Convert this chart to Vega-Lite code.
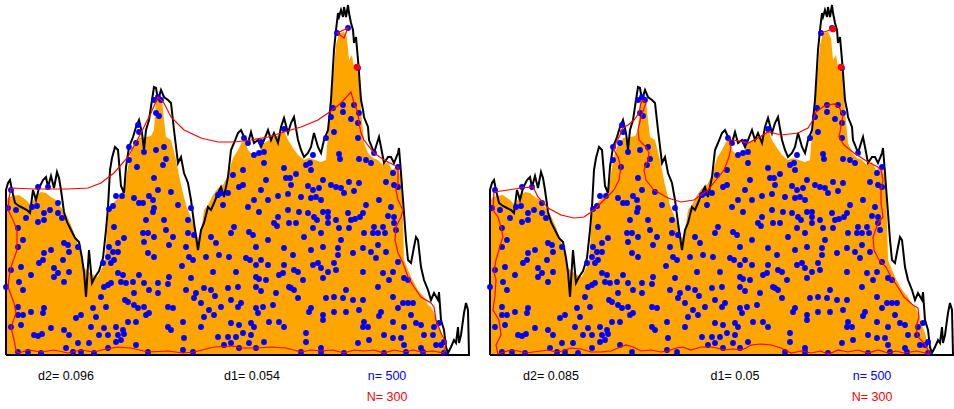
{
"$schema": "https://vega.github.io/schema/vega-lite/v6.json",
"padding": {"left": 2, "top": 0, "right": 0, "bottom": 0},
"spacing": 21,
"bounds": "flush",
"config": {"view": {"stroke": null}},
"datasets": {
"orange": [
{"x":5,"y":155},{"x":8,"y":158},{"x":12,"y":159},{"x":18,"y":160},{"x":25,"y":155},{"x":30,"y":150},{"x":35,"y":160},{"x":40,"y":163},{"x":45,"y":162},{"x":50,"y":158},{"x":55,"y":155},{"x":58,"y":150},{"x":62,"y":145},{"x":67,"y":137},{"x":72,"y":125},{"x":77,"y":110},{"x":80,"y":100},{"x":83,"y":87},{"x":88,"y":83},{"x":92,"y":80},{"x":97,"y":78},{"x":100,"y":85},{"x":104,"y":93},{"x":107,"y":140},{"x":110,"y":150},{"x":115,"y":155},{"x":120,"y":160},{"x":125,"y":175},{"x":128,"y":195},{"x":132,"y":208},{"x":138,"y":217},{"x":145,"y":218},{"x":150,"y":219},{"x":153,"y":225},{"x":155,"y":255},{"x":158,"y":259},{"x":161,"y":255},{"x":163,"y":235},{"x":165,"y":218},{"x":170,"y":215},{"x":175,"y":195},{"x":180,"y":170},{"x":185,"y":150},{"x":190,"y":137},{"x":193,"y":130},{"x":197,"y":117},{"x":200,"y":123},{"x":203,"y":145},{"x":207,"y":150},{"x":212,"y":160},{"x":217,"y":167},{"x":222,"y":170},{"x":227,"y":180},{"x":232,"y":197},{"x":237,"y":205},{"x":241,"y":213},{"x":244,"y":215},{"x":247,"y":205},{"x":252,"y":200},{"x":258,"y":202},{"x":263,"y":212},{"x":268,"y":215},{"x":273,"y":218},{"x":278,"y":220},{"x":283,"y":225},{"x":287,"y":215},{"x":292,"y":207},{"x":297,"y":200},{"x":303,"y":195},{"x":308,"y":197},{"x":314,"y":195},{"x":320,"y":193},{"x":325,"y":195},{"x":328,"y":235},{"x":332,"y":275},{"x":335,"y":310},{"x":338,"y":322},{"x":343,"y":323},{"x":346,"y":317},{"x":348,"y":295},{"x":351,"y":300},{"x":353,"y":288},{"x":356,"y":287},{"x":358,"y":275},{"x":360,"y":245},{"x":363,"y":212},{"x":367,"y":202},{"x":372,"y":197},{"x":377,"y":195},{"x":382,"y":190},{"x":387,"y":193},{"x":391,"y":185},{"x":395,"y":188},{"x":398,"y":185},{"x":400,"y":175},{"x":402,"y":135},{"x":403,"y":95},{"x":410,"y":78},{"x":417,"y":65},{"x":423,"y":58},{"x":427,"y":50},{"x":430,"y":48},{"x":433,"y":42},{"x":437,"y":30},{"x":440,"y":22},{"x":443,"y":10},{"x":446,"y":0}
],
"black": [
{"x":5,"y":0},{"x":5,"y":165},{"x":7,"y":172},{"x":9,"y":175},{"x":11,"y":165},{"x":14,"y":152},{"x":18,"y":149},{"x":22,"y":147},{"x":26,"y":145},{"x":29,"y":142},{"x":32,"y":165},{"x":35,"y":155},{"x":38,"y":167},{"x":42,"y":175},{"x":45,"y":178},{"x":47,"y":168},{"x":50,"y":179},{"x":53,"y":167},{"x":56,"y":183},{"x":58,"y":177},{"x":60,"y":165},{"x":63,"y":143},{"x":66,"y":133},{"x":70,"y":125},{"x":74,"y":117},{"x":78,"y":113},{"x":81,"y":97},{"x":83,"y":83},{"x":85,"y":58},{"x":88,"y":105},{"x":91,"y":72},{"x":94,"y":78},{"x":98,"y":84},{"x":102,"y":97},{"x":105,"y":125},{"x":107,"y":148},{"x":109,"y":185},{"x":111,"y":197},{"x":114,"y":208},{"x":117,"y":205},{"x":120,"y":169},{"x":123,"y":162},{"x":125,"y":188},{"x":128,"y":208},{"x":132,"y":218},{"x":135,"y":228},{"x":138,"y":235},{"x":141,"y":222},{"x":143,"y":205},{"x":145,"y":225},{"x":148,"y":235},{"x":151,"y":255},{"x":153,"y":268},{"x":155,"y":267},{"x":157,"y":255},{"x":160,"y":265},{"x":163,"y":258},{"x":167,"y":255},{"x":170,"y":252},{"x":173,"y":225},{"x":177,"y":192},{"x":180,"y":198},{"x":183,"y":182},{"x":187,"y":172},{"x":190,"y":155},{"x":193,"y":132},{"x":197,"y":105},{"x":200,"y":125},{"x":203,"y":132},{"x":207,"y":148},{"x":210,"y":145},{"x":213,"y":152},{"x":217,"y":162},{"x":220,"y":168},{"x":223,"y":158},{"x":227,"y":178},{"x":230,"y":205},{"x":233,"y":212},{"x":237,"y":222},{"x":240,"y":225},{"x":243,"y":218},{"x":247,"y":212},{"x":250,"y":223},{"x":253,"y":212},{"x":257,"y":215},{"x":260,"y":208},{"x":263,"y":215},{"x":267,"y":225},{"x":270,"y":215},{"x":273,"y":222},{"x":277,"y":212},{"x":280,"y":228},{"x":283,"y":237},{"x":287,"y":222},{"x":290,"y":232},{"x":293,"y":238},{"x":297,"y":215},{"x":300,"y":205},{"x":303,"y":198},{"x":307,"y":202},{"x":310,"y":208},{"x":313,"y":222},{"x":317,"y":208},{"x":320,"y":202},{"x":323,"y":215},{"x":327,"y":225},{"x":330,"y":255},{"x":332,"y":288},{"x":333,"y":305},{"x":335,"y":325},{"x":337,"y":342},{"x":338,"y":338},{"x":340,"y":345},{"x":342,"y":338},{"x":343,"y":348},{"x":345,"y":338},{"x":347,"y":350},{"x":348,"y":342},{"x":350,"y":332},{"x":352,"y":325},{"x":353,"y":312},{"x":355,"y":318},{"x":357,"y":295},{"x":358,"y":282},{"x":360,"y":255},{"x":362,"y":245},{"x":363,"y":238},{"x":367,"y":228},{"x":368,"y":215},{"x":372,"y":205},{"x":373,"y":202},{"x":377,"y":215},{"x":378,"y":218},{"x":380,"y":208},{"x":383,"y":192},{"x":387,"y":198},{"x":390,"y":198},{"x":393,"y":192},{"x":397,"y":202},{"x":398,"y":207},{"x":400,"y":182},{"x":402,"y":155},{"x":403,"y":142},{"x":405,"y":115},{"x":407,"y":95},{"x":410,"y":92},{"x":413,"y":108},{"x":415,"y":118},{"x":417,"y":115},{"x":420,"y":88},{"x":423,"y":75},{"x":427,"y":65},{"x":430,"y":55},{"x":433,"y":62},{"x":437,"y":55},{"x":438,"y":63},{"x":440,"y":35},{"x":443,"y":25},{"x":445,"y":8},{"x":447,"y":2},{"x":450,"y":8},{"x":453,"y":15},{"x":455,"y":12},{"x":457,"y":28},{"x":458,"y":12},{"x":460,"y":20},{"x":463,"y":42},{"x":465,"y":52},{"x":467,"y":45},{"x":468,"y":0},{"x":5,"y":0}
],
"pts": [
{"x":153,"y":255},{"x":157,"y":258},{"x":160,"y":255},{"x":155,"y":242},{"x":158,"y":239},{"x":137,"y":230},{"x":138,"y":223},{"x":135,"y":212},{"x":128,"y":208},{"x":143,"y":203},{"x":155,"y":205},{"x":163,"y":208},{"x":128,"y":195},{"x":136,"y":188},{"x":162,"y":190},{"x":165,"y":196},{"x":153,"y":177},
{"x":243,"y":217},{"x":247,"y":212},{"x":253,"y":200},{"x":258,"y":202},{"x":263,"y":203},{"x":260,"y":213},{"x":283,"y":226},{"x":263,"y":192},{"x":283,"y":187},{"x":285,"y":177},{"x":289,"y":177},{"x":295,"y":181},{"x":305,"y":190},{"x":309,"y":192},{"x":310,"y":185},{"x":312,"y":200},{"x":232,"y":180},{"x":242,"y":185},
{"x":336,"y":322},{"x":347,"y":327},{"x":357,"y":287},{"x":332,"y":247},{"x":342,"y":250},{"x":342,"y":243},{"x":353,"y":250},{"x":330,"y":238},{"x":358,"y":242},{"x":350,"y":236},{"x":357,"y":232},{"x":333,"y":223},{"x":325,"y":217},{"x":357,"y":217},{"x":338,"y":201},{"x":339,"y":196},{"x":358,"y":196},{"x":365,"y":195},{"x":370,"y":192},{"x":373,"y":202},{"x":392,"y":182},{"x":397,"y":188},
{"x":10,"y":165},{"x":37,"y":168},{"x":47,"y":168},{"x":7,"y":147},{"x":15,"y":145},{"x":25,"y":137},{"x":31,"y":148},{"x":36,"y":149},{"x":43,"y":142},{"x":49,"y":145},{"x":57,"y":152},{"x":57,"y":142},{"x":61,"y":137},{"x":37,"y":133},{"x":43,"y":135},{"x":115,"y":159},{"x":121,"y":159},{"x":112,"y":149},{"x":108,"y":146},{"x":133,"y":157},{"x":138,"y":152},{"x":142,"y":152},{"x":148,"y":159},{"x":152,"y":155},{"x":153,"y":147},{"x":152,"y":143},{"x":145,"y":135},{"x":157,"y":165},
{"x":17,"y":127},{"x":22,"y":115},{"x":17,"y":108},{"x":63,"y":112},{"x":67,"y":110},{"x":77,"y":108},{"x":68,"y":103},{"x":43,"y":102},{"x":50,"y":105},{"x":42,"y":95},{"x":38,"y":92},{"x":62,"y":95},{"x":20,"y":88},{"x":10,"y":85},{"x":30,"y":80},{"x":53,"y":87},{"x":57,"y":82},{"x":68,"y":83},{"x":53,"y":78},{"x":63,"y":73},{"x":18,"y":73},{"x":5,"y":68},{"x":22,"y":65},{"x":113,"y":128},{"x":117,"y":112},{"x":123,"y":117},{"x":147,"y":122},{"x":153,"y":118},{"x":142,"y":122},{"x":143,"y":113},{"x":108,"y":108},{"x":112,"y":103},{"x":117,"y":103},{"x":107,"y":98},{"x":113,"y":95},{"x":102,"y":92},{"x":110,"y":92},{"x":153,"y":98},{"x":147,"y":102},{"x":138,"y":80},{"x":132,"y":73},{"x":143,"y":72},{"x":117,"y":82},{"x":122,"y":80},{"x":120,"y":73},{"x":125,"y":72},{"x":110,"y":72},{"x":103,"y":68},{"x":107,"y":70},{"x":133,"y":62},{"x":148,"y":65},{"x":157,"y":72},{"x":157,"y":62},{"x":167,"y":71},
{"x":17,"y":48},{"x":17,"y":40},{"x":22,"y":40},{"x":30,"y":43},{"x":42,"y":42},{"x":43,"y":47},{"x":20,"y":30},{"x":10,"y":28},{"x":33,"y":20},{"x":37,"y":19},{"x":41,"y":21},{"x":50,"y":27},{"x":68,"y":20},{"x":63,"y":25},{"x":75,"y":37},{"x":80,"y":40},{"x":77,"y":12},{"x":65,"y":7},{"x":72,"y":3},{"x":80,"y":3},{"x":88,"y":12},{"x":90,"y":28},{"x":92,"y":47},{"x":100,"y":58},{"x":95,"y":38},{"x":98,"y":20},{"x":103,"y":27},{"x":105,"y":48},{"x":107,"y":20},{"x":115,"y":28},{"x":117,"y":20},{"x":122,"y":25},{"x":123,"y":21},{"x":127,"y":33},{"x":135,"y":33},{"x":135,"y":10},{"x":120,"y":15},{"x":115,"y":13},{"x":107,"y":7},{"x":93,"y":2},{"x":145,"y":40},{"x":148,"y":42},{"x":40,"y":2},{"x":27,"y":3},{"x":17,"y":3},{"x":147,"y":3},{"x":127,"y":53},{"x":133,"y":50},{"x":137,"y":47},{"x":143,"y":48},{"x":124,"y":55},
{"x":170,"y":163},{"x":177,"y":150},{"x":190,"y":147},{"x":163,"y":135},{"x":187,"y":135},{"x":165,"y":125},{"x":172,"y":118},{"x":168,"y":110},{"x":187,"y":122},{"x":193,"y":120},{"x":185,"y":108},{"x":210,"y":118},{"x":215,"y":112},{"x":217,"y":160},{"x":220,"y":162},{"x":222,"y":150},{"x":227,"y":162},{"x":238,"y":168},{"x":188,"y":98},{"x":192,"y":95},{"x":181,"y":89},{"x":205,"y":98},{"x":218,"y":100},{"x":228,"y":98},{"x":230,"y":122},{"x":233,"y":128},{"x":168,"y":78},{"x":190,"y":77},{"x":212,"y":83},{"x":185,"y":65},{"x":195,"y":62},{"x":203,"y":67},{"x":210,"y":65},{"x":214,"y":59},{"x":193,"y":57},{"x":227,"y":67},{"x":235,"y":83},{"x":237,"y":68},{"x":200,"y":52},{"x":208,"y":45},{"x":220,"y":48},{"x":230,"y":55},{"x":237,"y":48},{"x":172,"y":47},{"x":167,"y":48},{"x":167,"y":28},{"x":170,"y":25},{"x":182,"y":33},{"x":183,"y":17},{"x":182,"y":5},{"x":192,"y":3},{"x":200,"y":28},{"x":203,"y":38},{"x":213,"y":40},{"x":217,"y":18},{"x":227,"y":18},{"x":230,"y":32},{"x":223,"y":10},{"x":230,"y":12},{"x":235,"y":18},
{"x":242,"y":170},{"x":247,"y":148},{"x":253,"y":155},{"x":258,"y":143},{"x":260,"y":165},{"x":265,"y":175},{"x":267,"y":155},{"x":277,"y":159},{"x":287,"y":161},{"x":290,"y":170},{"x":300,"y":158},{"x":298,"y":143},{"x":287,"y":145},{"x":307,"y":169},{"x":312,"y":165},{"x":310,"y":157},{"x":315,"y":158},{"x":318,"y":167},{"x":322,"y":175},{"x":320,"y":155},{"x":322,"y":143},{"x":327,"y":143},{"x":330,"y":170},{"x":335,"y":168},{"x":340,"y":167},{"x":343,"y":162},{"x":348,"y":173},{"x":353,"y":164},{"x":358,"y":172},{"x":365,"y":150},{"x":362,"y":142},{"x":378,"y":155},{"x":385,"y":173},{"x":393,"y":170},{"x":397,"y":168},{"x":390,"y":148},{"x":393,"y":138},{"x":387,"y":139},
{"x":248,"y":123},{"x":252,"y":120},{"x":273,"y":132},{"x":276,"y":129},{"x":288,"y":132},{"x":295,"y":132},{"x":307,"y":142},{"x":313,"y":138},{"x":316,"y":135},{"x":312,"y":127},{"x":320,"y":122},{"x":327,"y":138},{"x":327,"y":132},{"x":335,"y":135},{"x":338,"y":127},{"x":348,"y":127},{"x":350,"y":135},{"x":354,"y":136},{"x":359,"y":138},{"x":347,"y":142},{"x":363,"y":122},{"x":372,"y":122},{"x":373,"y":128},{"x":377,"y":122},{"x":382,"y":128},{"x":384,"y":122},{"x":393,"y":132},{"x":395,"y":125},{"x":377,"y":110},{"x":370,"y":103},{"x":385,"y":103},{"x":375,"y":97},{"x":362,"y":107},{"x":352,"y":102},{"x":340,"y":115},{"x":337,"y":107},{"x":337,"y":100},{"x":333,"y":92},{"x":322,"y":108},{"x":310,"y":105},{"x":312,"y":90},{"x":292,"y":100},{"x":283,"y":107},{"x":267,"y":115},{"x":255,"y":108},{"x":255,"y":90},{"x":245,"y":97},{"x":249,"y":95},{"x":260,"y":95},{"x":267,"y":90},{"x":283,"y":90},{"x":282,"y":82},{"x":293,"y":85},{"x":255,"y":78},{"x":258,"y":76},{"x":265,"y":75},{"x":278,"y":80},{"x":297,"y":83},{"x":302,"y":75},{"x":320,"y":87},{"x":327,"y":83},{"x":335,"y":85},{"x":362,"y":83},{"x":382,"y":82},{"x":392,"y":83},{"x":397,"y":93},{"x":388,"y":75},{"x":403,"y":77},{"x":407,"y":75},{"x":303,"y":118},{"x":317,"y":92},{"x":277,"y":138},
{"x":255,"y":68},{"x":260,"y":64},{"x":275,"y":62},{"x":290,"y":67},{"x":322,"y":77},{"x":345,"y":65},{"x":342,"y":57},{"x":333,"y":58},{"x":325,"y":57},{"x":352,"y":55},{"x":362,"y":55},{"x":377,"y":68},{"x":392,"y":58},{"x":397,"y":47},{"x":402,"y":52},{"x":407,"y":52},{"x":412,"y":52},{"x":410,"y":40},{"x":420,"y":30},{"x":415,"y":32},{"x":403,"y":28},{"x":240,"y":52},{"x":255,"y":47},{"x":262,"y":48},{"x":272,"y":50},{"x":257,"y":42},{"x":268,"y":33},{"x":278,"y":33},{"x":283,"y":28},{"x":297,"y":57},{"x":310,"y":47},{"x":308,"y":43},{"x":322,"y":40},{"x":322,"y":35},{"x":333,"y":43},{"x":345,"y":43},{"x":358,"y":45},{"x":363,"y":33},{"x":362,"y":28},{"x":367,"y":28},{"x":380,"y":43},{"x":378,"y":39},{"x":392,"y":33},{"x":238,"y":30},{"x":250,"y":32},{"x":253,"y":28},{"x":288,"y":68},{"x":293,"y":65},
{"x":242,"y":22},{"x":250,"y":20},{"x":263,"y":13},{"x":248,"y":12},{"x":238,"y":7},{"x":255,"y":7},{"x":300,"y":3},{"x":305,"y":22},{"x":305,"y":13},{"x":320,"y":7},{"x":320,"y":3},{"x":343,"y":2},{"x":357,"y":12},{"x":368,"y":15},{"x":383,"y":20},{"x":392,"y":17},{"x":400,"y":17},{"x":403,"y":10},{"x":405,"y":3},{"x":420,"y":7},{"x":422,"y":3},{"x":423,"y":20},{"x":433,"y":28},{"x":432,"y":20},{"x":438,"y":32},{"x":435,"y":10},{"x":440,"y":10},{"x":443,"y":2},{"x":443,"y":13},{"x":383,"y":2}
],
"redL": [
{"g":"a","x":10,"y":167},{"g":"a","x":33,"y":166},{"g":"a","x":67,"y":166},{"g":"a","x":87,"y":167},{"g":"a","x":100,"y":172},{"g":"a","x":113,"y":182},{"g":"a","x":127,"y":198},{"g":"a","x":140,"y":222},{"g":"a","x":150,"y":242},{"g":"a","x":157,"y":258},{"g":"a","x":163,"y":252},{"g":"a","x":170,"y":238},{"g":"a","x":183,"y":225},{"g":"a","x":200,"y":217},{"g":"a","x":217,"y":213},{"g":"a","x":233,"y":213},{"g":"a","x":250,"y":215},{"g":"a","x":267,"y":218},{"g":"a","x":283,"y":223},{"g":"a","x":300,"y":228},{"g":"a","x":317,"y":235},{"g":"a","x":330,"y":244},{"g":"a","x":340,"y":252},{"g":"a","x":350,"y":263},{"g":"a","x":353,"y":252},{"g":"a","x":357,"y":242},{"g":"a","x":358,"y":232},{"g":"a","x":360,"y":222},{"g":"a","x":363,"y":215},{"g":"a","x":373,"y":202},{"g":"a","x":383,"y":195},{"g":"a","x":397,"y":188},{"g":"a","x":397,"y":172},{"g":"a","x":395,"y":165},{"g":"a","x":397,"y":155},{"g":"a","x":402,"y":145},{"g":"a","x":400,"y":138},{"g":"a","x":395,"y":128},{"g":"a","x":394,"y":115},{"g":"a","x":397,"y":102},{"g":"a","x":402,"y":92},{"g":"a","x":407,"y":78},{"g":"a","x":413,"y":68},{"g":"a","x":420,"y":58},{"g":"a","x":430,"y":52},{"g":"a","x":433,"y":48},{"g":"a","x":435,"y":35},{"g":"a","x":440,"y":22},{"g":"a","x":445,"y":12},{"g":"a","x":443,"y":2},{"g":"a","x":432,"y":4},{"g":"a","x":420,"y":3},{"g":"a","x":412,"y":5},{"g":"a","x":403,"y":3},{"g":"a","x":393,"y":5},{"g":"a","x":383,"y":2},{"g":"a","x":373,"y":5},{"g":"a","x":363,"y":4},{"g":"a","x":353,"y":5},{"g":"a","x":343,"y":2},{"g":"a","x":332,"y":5},{"g":"a","x":320,"y":4},{"g":"a","x":310,"y":5},{"g":"a","x":300,"y":3},{"g":"a","x":285,"y":7},{"g":"a","x":270,"y":8},{"g":"a","x":257,"y":7},{"g":"a","x":240,"y":7},{"g":"a","x":233,"y":9},{"g":"a","x":213,"y":8},{"g":"a","x":193,"y":3},{"g":"a","x":182,"y":2},{"g":"a","x":167,"y":4},{"g":"a","x":147,"y":3},{"g":"a","x":130,"y":7},{"g":"a","x":117,"y":8},{"g":"a","x":105,"y":6},{"g":"a","x":93,"y":3},{"g":"a","x":80,"y":5},{"g":"a","x":67,"y":2},{"g":"a","x":53,"y":5},{"g":"a","x":40,"y":3},{"g":"a","x":28,"y":5},{"g":"a","x":17,"y":2},{"g":"a","x":15,"y":5},{"g":"a","x":13,"y":15},{"g":"a","x":10,"y":28},{"g":"a","x":15,"y":42},{"g":"a","x":13,"y":52},{"g":"a","x":7,"y":68},{"g":"a","x":8,"y":77},{"g":"a","x":10,"y":88},{"g":"a","x":16,"y":105},{"g":"a","x":16,"y":125},{"g":"a","x":12,"y":135},{"g":"a","x":7,"y":145},{"g":"a","x":8,"y":157},{"g":"a","x":10,"y":167},
{"g":"b","x":336,"y":322},{"g":"b","x":347,"y":327},{"g":"b","x":343,"y":317},{"g":"b","x":336,"y":322}
],
"redR": [
{"g":"a","x":9,"y":163},{"g":"a","x":23,"y":165},{"g":"a","x":36,"y":167},{"g":"a","x":48,"y":168},{"g":"a","x":53,"y":158},{"g":"a","x":63,"y":147},{"g":"a","x":76,"y":140},{"g":"a","x":89,"y":137},{"g":"a","x":99,"y":138},{"g":"a","x":109,"y":145},{"g":"a","x":119,"y":155},{"g":"a","x":129,"y":165},{"g":"a","x":134,"y":175},{"g":"a","x":136,"y":188},{"g":"a","x":133,"y":198},{"g":"a","x":129,"y":205},{"g":"a","x":131,"y":212},{"g":"a","x":136,"y":222},{"g":"a","x":138,"y":227},{"g":"a","x":143,"y":230},{"g":"a","x":149,"y":235},{"g":"a","x":154,"y":242},{"g":"a","x":156,"y":252},{"g":"a","x":158,"y":255},{"g":"a","x":161,"y":252},{"g":"a","x":156,"y":238},{"g":"a","x":153,"y":225},{"g":"a","x":154,"y":215},{"g":"a","x":161,"y":208},{"g":"a","x":164,"y":202},{"g":"a","x":163,"y":195},{"g":"a","x":159,"y":185},{"g":"a","x":161,"y":175},{"g":"a","x":169,"y":165},{"g":"a","x":183,"y":157},{"g":"a","x":196,"y":153},{"g":"a","x":209,"y":155},{"g":"a","x":223,"y":165},{"g":"a","x":231,"y":175},{"g":"a","x":239,"y":185},{"g":"a","x":244,"y":198},{"g":"a","x":246,"y":208},{"g":"a","x":244,"y":215},{"g":"a","x":249,"y":215},{"g":"a","x":263,"y":212},{"g":"a","x":273,"y":217},{"g":"a","x":283,"y":223},{"g":"a","x":288,"y":222},{"g":"a","x":296,"y":220},{"g":"a","x":313,"y":222},{"g":"a","x":323,"y":227},{"g":"a","x":328,"y":235},{"g":"a","x":331,"y":243},{"g":"a","x":339,"y":249},{"g":"a","x":349,"y":251},{"g":"a","x":354,"y":248},{"g":"a","x":358,"y":240},{"g":"a","x":356,"y":228},{"g":"a","x":354,"y":218},{"g":"a","x":359,"y":210},{"g":"a","x":369,"y":202},{"g":"a","x":383,"y":193},{"g":"a","x":393,"y":188},{"g":"a","x":396,"y":185},{"g":"a","x":398,"y":175},{"g":"a","x":396,"y":165},{"g":"a","x":396,"y":152},{"g":"a","x":398,"y":138},{"g":"a","x":393,"y":132},{"g":"a","x":388,"y":118},{"g":"a","x":389,"y":105},{"g":"a","x":394,"y":95},{"g":"a","x":401,"y":88},{"g":"a","x":406,"y":78},{"g":"a","x":413,"y":68},{"g":"a","x":419,"y":58},{"g":"a","x":428,"y":50},{"g":"a","x":433,"y":47},{"g":"a","x":434,"y":38},{"g":"a","x":431,"y":28},{"g":"a","x":433,"y":18},{"g":"a","x":439,"y":12},{"g":"a","x":443,"y":5},{"g":"a","x":444,"y":1},{"g":"a","x":432,"y":4},{"g":"a","x":419,"y":2},{"g":"a","x":411,"y":4},{"g":"a","x":403,"y":2},{"g":"a","x":393,"y":5},{"g":"a","x":383,"y":2},{"g":"a","x":373,"y":5},{"g":"a","x":363,"y":3},{"g":"a","x":353,"y":5},{"g":"a","x":344,"y":1},{"g":"a","x":335,"y":4},{"g":"a","x":326,"y":2},{"g":"a","x":316,"y":4},{"g":"a","x":306,"y":2},{"g":"a","x":296,"y":7},{"g":"a","x":286,"y":10},{"g":"a","x":276,"y":11},{"g":"a","x":266,"y":10},{"g":"a","x":261,"y":7},{"g":"a","x":256,"y":5},{"g":"a","x":248,"y":6},{"g":"a","x":239,"y":5},{"g":"a","x":232,"y":7},{"g":"a","x":226,"y":8},{"g":"a","x":216,"y":8},{"g":"a","x":206,"y":5},{"g":"a","x":198,"y":8},{"g":"a","x":191,"y":7},{"g":"a","x":183,"y":4},{"g":"a","x":176,"y":3},{"g":"a","x":166,"y":5},{"g":"a","x":156,"y":4},{"g":"a","x":148,"y":8},{"g":"a","x":141,"y":10},{"g":"a","x":133,"y":7},{"g":"a","x":126,"y":4},{"g":"a","x":116,"y":3},{"g":"a","x":106,"y":3},{"g":"a","x":96,"y":6},{"g":"a","x":86,"y":7},{"g":"a","x":78,"y":4},{"g":"a","x":71,"y":3},{"g":"a","x":63,"y":5},{"g":"a","x":56,"y":4},{"g":"a","x":48,"y":3},{"g":"a","x":41,"y":2},{"g":"a","x":33,"y":4},{"g":"a","x":26,"y":5},{"g":"a","x":19,"y":3},{"g":"a","x":13,"y":1},{"g":"a","x":11,"y":10},{"g":"a","x":16,"y":20},{"g":"a","x":14,"y":35},{"g":"a","x":8,"y":45},{"g":"a","x":10,"y":60},{"g":"a","x":11,"y":75},{"g":"a","x":9,"y":83},{"g":"a","x":11,"y":95},{"g":"a","x":14,"y":105},{"g":"a","x":16,"y":112},{"g":"a","x":18,"y":118},{"g":"a","x":16,"y":128},{"g":"a","x":13,"y":138},{"g":"a","x":8,"y":145},{"g":"a","x":9,"y":163},
{"g":"b","x":336,"y":322},{"g":"b","x":348,"y":326}
],
"dotsL": [{"x":356,"y":288}],
"dotsR": [{"x":356,"y":288},{"x":348,"y":326}],
"labL": [
{"t":"d2= 0.096","k":"d","x":65,"y":-21},
{"t":"d1= 0.054","k":"d","x":251,"y":-21},
{"t":"n= 500","k":"n","x":386,"y":-21},
{"t":"N= 300","k":"N","x":386,"y":-42}
],
"labR": [
{"t":"d2= 0.085","k":"d","x":66,"y":-21},
{"t":"d1=  0.05","k":"d","x":250,"y":-21},
{"t":"n= 500","k":"n","x":387,"y":-21},
{"t":"N= 300","k":"N","x":387,"y":-42}
]
},
"hconcat": [
{
"width": 463, "height": 355,
"layer": [
{"data": {"name": "orange"}, "mark": {"type": "area", "color": "#FFA500", "opacity": 1}, "encoding": {"x": {"field": "x", "type": "quantitative", "scale": {"domain": [5, 468], "nice": false, "zero": false}, "axis": null}, "y": {"field": "y", "type": "quantitative", "scale": {"domain": [0, 355], "nice": false}, "axis": null}}},
{"data": {"name": "black"}, "mark": {"type": "line", "color": "#000000", "strokeWidth": 2}, "encoding": {"x": {"field": "x", "type": "quantitative"}, "y": {"field": "y", "type": "quantitative"}, "order": {"value": null}}},
{"data": {"name": "pts"}, "mark": {"type": "circle", "color": "#0000FF", "size": 34, "opacity": 1}, "encoding": {"x": {"field": "x", "type": "quantitative"}, "y": {"field": "y", "type": "quantitative"}}},
{"data": {"name": "redL"}, "mark": {"type": "line", "color": "#FF0000", "strokeWidth": 1.2}, "encoding": {"x": {"field": "x", "type": "quantitative"}, "y": {"field": "y", "type": "quantitative"}, "detail": {"field": "g", "type": "nominal"}, "order": {"value": null}}},
{"data": {"name": "dotsL"}, "mark": {"type": "circle", "color": "#FF0000", "size": 45, "opacity": 1}, "encoding": {"x": {"field": "x", "type": "quantitative"}, "y": {"field": "y", "type": "quantitative"}}},
{"data": {"name": "labL"}, "mark": {"type": "text", "font": "Liberation Sans", "fontSize": 12.5}, "encoding": {"x": {"field": "x", "type": "quantitative"}, "y": {"field": "y", "type": "quantitative"}, "text": {"field": "t"}, "color": {"field": "k", "type": "nominal", "scale": {"domain": ["d", "n", "N"], "range": ["#000000", "#0000FF", "#FF0000"]}, "legend": null}}}
]
},
{
"width": 463, "height": 355,
"layer": [
{"data": {"name": "orange"}, "mark": {"type": "area", "color": "#FFA500", "opacity": 1}, "encoding": {"x": {"field": "x", "type": "quantitative", "scale": {"domain": [5, 468], "nice": false, "zero": false}, "axis": null}, "y": {"field": "y", "type": "quantitative", "scale": {"domain": [0, 355], "nice": false}, "axis": null}}},
{"data": {"name": "black"}, "mark": {"type": "line", "color": "#000000", "strokeWidth": 2}, "encoding": {"x": {"field": "x", "type": "quantitative"}, "y": {"field": "y", "type": "quantitative"}, "order": {"value": null}}},
{"data": {"name": "pts"}, "mark": {"type": "circle", "color": "#0000FF", "size": 34, "opacity": 1}, "encoding": {"x": {"field": "x", "type": "quantitative"}, "y": {"field": "y", "type": "quantitative"}}},
{"data": {"name": "redR"}, "mark": {"type": "line", "color": "#FF0000", "strokeWidth": 1.2}, "encoding": {"x": {"field": "x", "type": "quantitative"}, "y": {"field": "y", "type": "quantitative"}, "detail": {"field": "g", "type": "nominal"}, "order": {"value": null}}},
{"data": {"name": "dotsR"}, "mark": {"type": "circle", "color": "#FF0000", "size": 45, "opacity": 1}, "encoding": {"x": {"field": "x", "type": "quantitative"}, "y": {"field": "y", "type": "quantitative"}}},
{"data": {"name": "labR"}, "mark": {"type": "text", "font": "Liberation Sans", "fontSize": 12.5}, "encoding": {"x": {"field": "x", "type": "quantitative"}, "y": {"field": "y", "type": "quantitative"}, "text": {"field": "t"}, "color": {"field": "k", "type": "nominal", "scale": {"domain": ["d", "n", "N"], "range": ["#000000", "#0000FF", "#FF0000"]}, "legend": null}}}
]
}
]
}
